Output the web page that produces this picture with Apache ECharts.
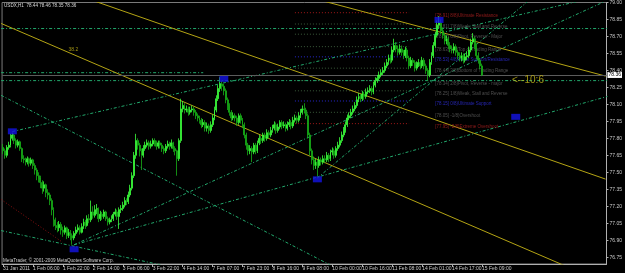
<!DOCTYPE html>
<html><head><meta charset="utf-8">
<script src="https://cdn.jsdelivr.net/npm/echarts@6.0.0/dist/echarts.min.js"></script>
<style>html,body{margin:0;padding:0;background:#000;}#c{width:625px;height:273px;}</style>
</head><body><div id="c"></div>
<script>
// ---- data ----
const title = 'USDX,H1  78.44 78.46 78.35 78.36';
const copyright = 'MetaTrader, \u00a9 2001-2009 MetaQuotes Software Corp.';
const tickLabels = ['31 Jan 2011','1 Feb 06:00','1 Feb 22:00','2 Feb 14:00','3 Feb 06:00','3 Feb 22:00','4 Feb 14:00','7 Feb 07:00','7 Feb 23:00','8 Feb 16:00','9 Feb 08:00','10 Feb 00:00','10 Feb 16:00','11 Feb 08:00','14 Feb 01:00','14 Feb 17:00','15 Feb 09:00'];
const barsPerLabel = 16;
const totalSlots = 323;
const yTicks = [79.00,78.85,78.70,78.55,78.40,78.25,78.10,77.95,77.80,77.65,77.50,77.35,77.20,77.05,76.90,76.75];
const lastPrice = 78.36;
const firstOpen = 77.72;
const closes = [
77.69,77.65,77.72,77.74, 77.80,77.83,77.78,77.74, 77.77,77.71,77.62,77.61, 77.59,77.62,77.58,77.61,
77.56,77.52,77.47,77.45, 77.41,77.36,77.39,77.32, 77.30,77.25,77.17,77.08, 77.03,77.01,77.04,76.99,
76.97,77.01,76.94,76.97, 76.94,76.92,76.96,76.99, 77.01,76.97,77.02,77.06, 77.03,77.09,77.08,77.15,
77.12,77.17,77.18,77.09, 77.13,77.11,77.15,77.09, 77.06,77.08,77.09,77.13, 77.15,77.11,77.17,77.18,
77.21,77.25,77.24,77.30, 77.36,77.47,77.65,77.78, 77.74,77.69,77.65,77.71, 77.74,77.76,77.73,77.75,
77.78,77.76,77.73,77.76, 77.74,77.71,77.69,77.73, 77.75,77.73,77.76,77.71, 77.69,77.62,77.78,78.06,
78.09,78.05,78.06,78.03, 78.05,78.06,78.03,78.00, 77.98,77.96,77.92,77.94, 77.89,77.91,77.87,77.92,
77.98,78.05,78.15,78.24, 78.28,78.26,78.22,78.14, 78.09,78.03,77.98,78.00, 77.98,77.94,78.00,77.96,
77.92,77.83,77.74,77.69, 77.71,77.68,77.74,77.69, 77.76,77.80,77.78,77.83, 77.80,77.85,77.83,77.87,
77.89,77.92,77.87,77.90, 77.94,77.91,77.92,77.89, 77.92,77.94,77.91,77.96, 77.98,77.96,78.00,78.03,
78.06,78.05,78.00,77.83, 77.69,77.61,77.56,77.59, 77.56,77.61,77.59,77.62, 77.61,77.65,77.62,77.68,
77.69,77.65,77.71,77.74, 77.78,77.83,77.87,77.92, 77.98,78.00,78.03,78.06, 78.09,78.14,78.17,78.15,
78.19,78.17,78.21,78.22, 78.24,78.21,78.27,78.31, 78.33,78.36,78.38,78.40, 78.44,78.47,78.51,78.49,
78.58,78.62,78.59,78.56, 78.59,78.56,78.53,78.58, 78.51,78.44,78.49,78.47, 78.42,78.45,78.47,78.44,
78.49,78.44,78.40,78.36, 78.47,78.53,78.62,78.71, 78.80,78.82,78.75,78.71, 78.66,78.68,78.62,78.59,
78.58,78.61,78.56,78.53, 78.51,78.53,78.49,78.52, 78.53,78.58,78.65,78.68, 78.62,78.53,78.49,78.44,
78.36];
const highs = [
77.75,77.71,77.74,77.77, 77.84,77.85,77.84,77.80, 77.79,77.78,77.72,77.65, 77.63,77.64,77.63,77.63,
77.62,77.58,77.54,77.50, 77.47,77.43,77.42,77.40, 77.35,77.32,77.27,77.19, 77.10,77.06,77.07,77.06,
77.02,77.03,77.02,77.00, 76.99,76.96,76.98,77.02, 77.04,77.03,77.05,77.09, 77.08,77.12,77.13,77.25,
77.20,77.21,77.22,77.19, 77.16,77.15,77.17,77.16, 77.11,77.10,77.12,77.15, 77.18,77.17,77.19,77.21,
77.24,77.28,77.27,77.33, 77.39,77.50,77.68,77.84, 77.80,77.76,77.71,77.74, 77.77,77.79,77.78,77.78,
77.80,77.80,77.78,77.78, 77.78,77.76,77.73,77.75, 77.78,77.77,77.79,77.77, 77.73,77.70,77.80,78.15,
78.13,78.11,78.09,78.08, 78.08,78.09,78.08,78.05, 78.02,78.00,77.98,77.97, 77.96,77.94,77.93,77.95,
78.01,78.08,78.18,78.27, 78.34,78.31,78.28,78.24, 78.16,78.11,78.05,78.03, 78.02,78.00,78.02,78.02,
77.98,77.94,77.85,77.76, 77.74,77.73,77.76,77.76, 77.78,77.83,77.82,77.85, 77.85,77.88,77.87,77.90,
77.92,77.95,77.94,77.93, 77.96,77.96,77.95,77.94, 77.95,77.97,77.96,77.99, 78.01,78.00,78.03,78.06,
78.09,78.11,78.07,78.02, 77.85,77.71,77.64,77.62, 77.61,77.64,77.63,77.65, 77.65,77.68,77.67,77.70,
77.72,77.71,77.73,77.77, 77.81,77.86,77.90,77.95, 78.01,78.03,78.06,78.09, 78.12,78.17,78.20,78.19,
78.22,78.21,78.24,78.25, 78.27,78.26,78.30,78.34, 78.36,78.39,78.41,78.43, 78.47,78.50,78.54,78.54,
78.61,78.68,78.65,78.62, 78.63,78.62,78.58,78.61, 78.60,78.53,78.52,78.51, 78.49,78.48,78.50,78.49,
78.52,78.51,78.46,78.42, 78.50,78.56,78.65,78.74, 78.84,78.88,78.85,78.78, 78.73,78.71,78.70,78.65,
78.62,78.64,78.63,78.58, 78.56,78.56,78.55,78.55, 78.57,78.61,78.68,78.73, 78.70,78.64,78.56,78.51,
78.46];
const lows = [
77.66,77.62,77.63,77.70, 77.72,77.78,77.75,77.71, 77.72,77.69,77.59,77.58, 77.56,77.57,77.55,77.56,
77.53,77.48,77.43,77.41, 77.36,77.31,77.33,77.28, 77.26,77.21,77.12,77.02, 76.99,76.97,76.98,76.95,
76.93,76.95,76.91,76.92, 76.90,76.86,76.90,76.94, 76.97,76.95,76.96,77.00, 77.00,77.02,77.05,77.06,
77.09,77.10,77.13,77.06, 77.07,77.08,77.09,77.07, 77.03,77.04,77.06,77.07, 77.11,77.08,77.00,77.14,
77.16,77.19,77.21,77.22, 77.28,77.34,77.45,77.62, 77.70,77.64,77.52,77.63, 77.69,77.72,77.70,77.71,
77.73,77.73,77.70,77.71, 77.71,77.68,77.66,77.67, 77.71,77.70,77.71,77.68, 77.65,77.47,77.60,77.76,
78.03,78.02,78.03,78.00, 78.01,78.03,78.00,77.97, 77.95,77.93,77.89,77.90, 77.86,77.86,77.84,77.85,
77.90,77.96,78.03,78.13, 78.21,78.22,78.18,78.11, 78.05,78.00,77.95,77.96, 77.95,77.91,77.92,77.93,
77.89,77.80,77.70,77.65, 77.66,77.59,77.66,77.66, 77.67,77.74,77.75,77.76, 77.77,77.78,77.80,77.81,
77.85,77.87,77.84,77.85, 77.88,77.88,77.89,77.86, 77.87,77.90,77.88,77.89, 77.94,77.93,77.94,77.98,
78.01,78.02,77.97,77.80, 77.65,77.57,77.52,77.53, 77.46,77.54,77.56,77.57, 77.58,77.59,77.59,77.60,
77.65,77.62,77.63,77.69, 77.72,77.76,77.81,77.85, 77.90,77.96,77.98,78.01, 78.04,78.07,78.12,78.12,
78.13,78.14,78.15,78.19, 78.20,78.18,78.19,78.25, 78.29,78.31,78.34,78.36, 78.38,78.42,78.45,78.46,
78.47,78.56,78.56,78.53, 78.54,78.53,78.50,78.51, 78.48,78.41,78.42,78.44, 78.39,78.40,78.43,78.41,
78.42,78.41,78.37,78.31, 78.34,78.45,78.51,78.60, 78.69,78.77,78.72,78.68, 78.63,78.63,78.59,78.56,
78.55,78.55,78.53,78.50, 78.48,78.48,78.46,78.47, 78.49,78.51,78.56,78.63, 78.59,78.50,78.46,78.41,
78.35];
// trend lines: [[barIndex, price], [barIndex, price]]
const yellowLines = [
  [[-1,78.815],[322,76.52]],
  [[-1,79.30],[322,77.44]],
  [[-1,79.77],[322,78.35]]
];
const greenLines = [
  [[-1,78.77],[323,78.77]],
  [[-1,78.31],[323,78.31]],
  [[-1,78.38],[107,78.38]],
  [[5,77.86],[323,79.07]],
  [[-1,78.18],[175,76.68]],
  [[-1,76.985],[85,76.68]],
  [[38,76.86],[323,78.17]],
  [[38,76.86],[323,79.02]],
  [[168,77.45],[323,79.60]]
];
const redLines = [
  [[-1,77.26],[32,76.88]]
];
const murreyStart = 156, murreyEnd = 217, murreyTextAt = 231;
const murreyPrices = [79.01,78.91,78.81,78.72,78.61,78.52,78.42,78.31,78.22,78.13,78.03,77.93];
const murreyTexts = ['[79.00] +1/8)Overshoot','[78.91] 8/8)Ultimate Resistance','[78.81] 7/8)Weak, Stall and Reverse','[78.72] 6/8)Pivot, Reverse - Major','[78.63] 5/8)Top of Trading Range','[78.53] 4/8)Major Support/Resistance','[78.44] 3/8)Bottom of Trading Range','[78.34] 2/8)Pivot, Reverse - major','[78.25] 1/8)Weak, Stall and Reverse','[78.15] 0/8)Ultimate Support','[78.05] -1/8)Overshoot','[77.95] -2/8)Extreme Overshoot'];
const markerPoints = [[5,77.862],[118.3,78.325],[37.6,76.82],[168,77.438],[233,78.846],[273.7,77.99]];
const annotations = [
  {text:'38.2', at:[35.2,78.586]},
  {text:'<--10:6', at:[271.5,78.312]}
];

// ---- build ----
const categories = [];
for (let i = 0; i < totalSlots; i++) categories.push(String(i));
const candles = closes.map((c, i) => [i === 0 ? firstOpen : closes[i-1], c, lows[i], highs[i]]);

const YELLOW = '#b4a414', GREEN = '#22a86c', RED = '#8a1010';
const FONT = 'Liberation Sans';
const murreyColor = i => (i === 1 || i === 11) ? '#a01818' : (i === 5 || i === 9) ? '#2828d0' : '#3a5a3a';
const murreyTextColor = i => (i === 1 || i === 11) ? '#b02020' : (i === 5 || i === 9) ? '#3030e0' : '#626262';
const labelAt = i => i % barsPerLabel === 0 && i / barsPerLabel < tickLabels.length;

const series = [];
series.push({
  type: 'candlestick', data: candles, barWidth: 1.4,
  itemStyle: {color: '#28f028', color0: '#109a10', borderColor: '#3cff3c', borderColor0: '#18b018', borderWidth: 0.8},
  markLine: {
    symbol: 'none', silent: true, animation: false,
    lineStyle: {color: '#5c5c5c', type: 'solid', width: 1},
    label: {position: 'end', formatter: lastPrice.toFixed(2), color: '#000', backgroundColor: '#fff', fontSize: 5, padding: [1,1,0,1], distance: 1, fontFamily: FONT},
    data: [{yAxis: lastPrice}]
  },
  z: 5
});
yellowLines.forEach(l => series.push({type:'line', data:l, symbol:'none', silent:true, lineStyle:{color:YELLOW, width:1}, z:3, animation:false}));
greenLines.forEach(l => series.push({type:'line', data:l, symbol:'none', silent:true, lineStyle:{color:GREEN, width:1, type:[3,2,1,2]}, z:2, animation:false}));
redLines.forEach(l => series.push({type:'line', data:l, symbol:'none', silent:true, lineStyle:{color:RED, width:1, type:[1,2]}, z:2, animation:false}));
murreyPrices.forEach((p, i) => {
  series.push({type:'line', data:[[murreyStart,p],[murreyEnd,p]], symbol:'none', silent:true, lineStyle:{color:murreyColor(i), width:1, type:[1,2]}, z:1, animation:false});
});
series.push({
  type:'scatter', symbolSize:0, silent:true, animation:false, z:4,
  data: murreyPrices.map((p,i) => ({value:[murreyTextAt, p], label:{color: murreyTextColor(i)}})),
  label:{show:true, position:'right', distance:0, offset:[0,3], fontSize:4.5, fontFamily:FONT,
    formatter: prm => murreyTexts[prm.dataIndex]}
});
series.push({
  type:'scatter', symbol:'rect', symbolSize:[9,6], silent:true, animation:false, z:6,
  itemStyle:{color:'#1414e6'}, data: markerPoints
});
series.push({
  type:'scatter', symbolSize:0, silent:true, animation:false, z:6,
  data: annotations.map((a,i) => ({value:a.at, label:{fontSize: i === 0 ? 5 : 10}})),
  label:{show:true, position:'right', distance:0, color:'#c8b818', fontFamily:FONT,
    formatter: prm => annotations[prm.dataIndex].text}
});

const chart = echarts.init(document.getElementById('c'), null, {renderer:'canvas'});
chart.setOption({
  animation: false,
  backgroundColor: '#000',
  grid: {left: 1, right: 18, top: 2, bottom: 9, show: true, borderColor: '#7a7a7a', borderWidth: 1, backgroundColor: '#000'},
  xAxis: {
    type: 'category', data: categories, boundaryGap: true,
    axisLine: {lineStyle: {color: '#b0b0b0'}},
    axisTick: {show: true, alignWithLabel: true, length: 3, lineStyle:{color:'#b0b0b0'}, interval: labelAt},
    axisLabel: {show: true, color: '#c8c8c8', fontSize: 5, fontFamily: FONT, margin: 2, align: 'left',
      hideOverlap: false, showMinLabel: true, showMaxLabel: true,
      interval: labelAt,
      formatter: v => tickLabels[Number(v) / barsPerLabel] || ''},
    splitLine: {show: false}
  },
  yAxis: {
    type: 'value', position: 'right', min: 76.69, max: 79.00, scale: true,
    axisLine: {show: true, lineStyle: {color: '#b0b0b0'}},
    axisTick: {show: true, length: 2, customValues: yTicks, lineStyle:{color:'#b0b0b0'}},
    axisLabel: {show: true, color: '#c8c8c8', fontSize: 5, fontFamily: FONT, margin: 3, customValues: yTicks,
      formatter: v => v.toFixed(2)},
    splitLine: {show: false}
  },
  graphic: [
    {type:'text', left: 4, top: 3, style:{text: title, fill:'#d8d8d8', fontSize: 4.6, fontFamily: FONT}},
    {type:'text', left: 3, top: 258, style:{text: copyright, fill:'#d0d0d0', fontSize: 4.6, fontFamily: FONT}}
  ],
  series: series
});
</script></body></html>
